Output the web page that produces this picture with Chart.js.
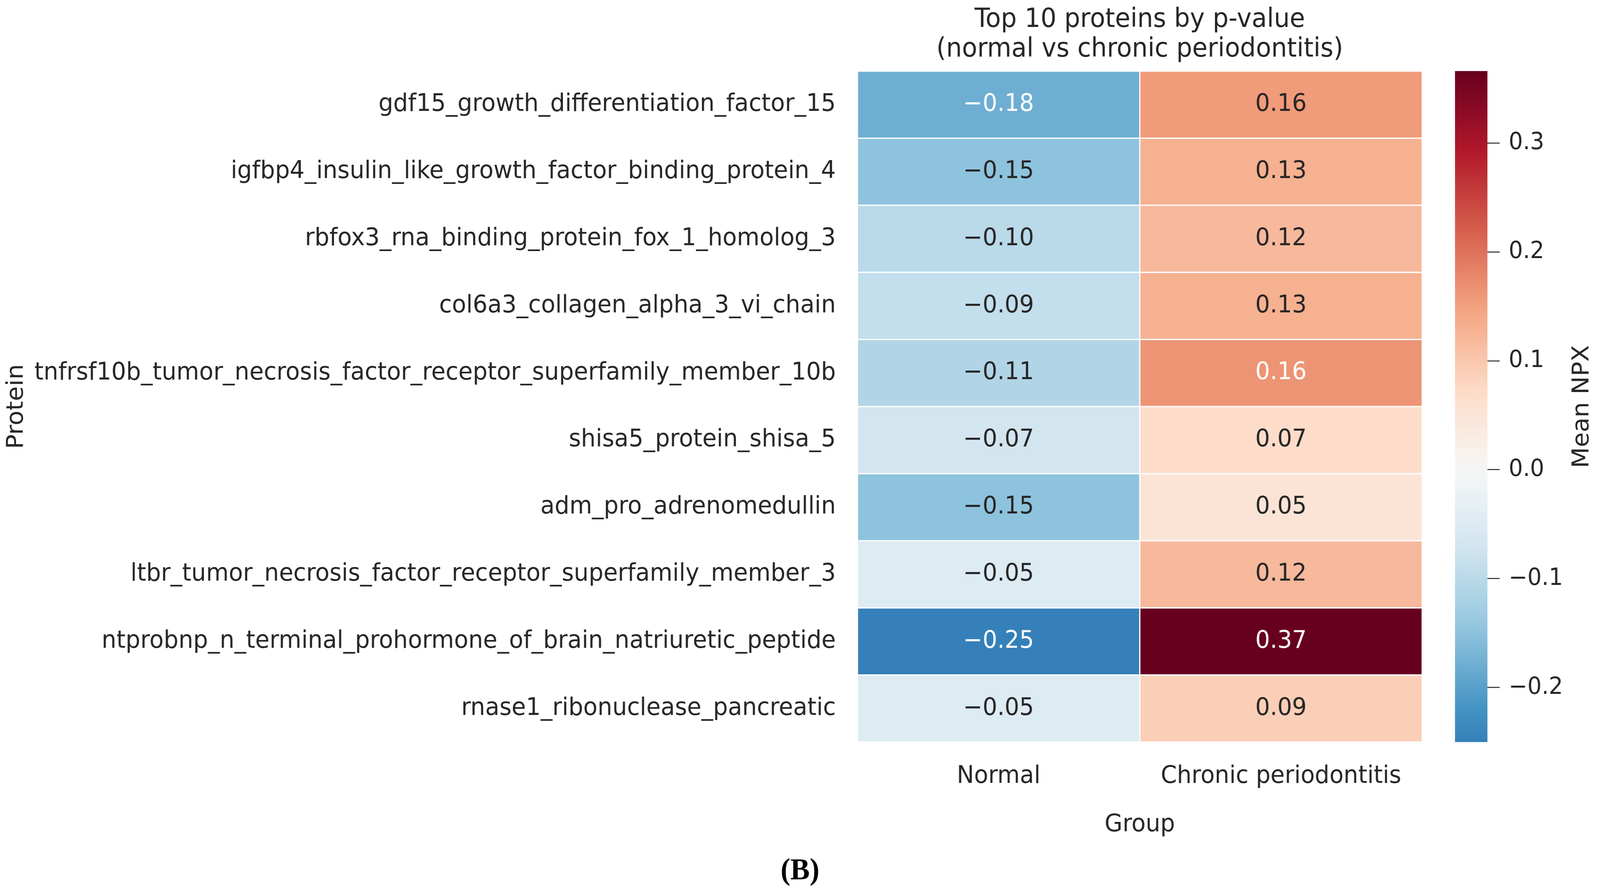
<!DOCTYPE html>
<html>
<head>
<meta charset="utf-8">
<script src="https://cdn.jsdelivr.net/npm/chart.js@4.4.1/dist/chart.umd.min.js"></script>
<style>
  html, body { margin: 0; padding: 0; background: #ffffff; overflow: hidden; }
  canvas { display: block; }
</style>
</head>
<body>
<!-- drawn at the reference size, shown fitted to the window -->
<canvas id="heatmap" width="4292" height="2287" style="width:100vw;height:100vh"></canvas>
<script>
// Heatmap values
const proteins = [
  'gdf15_growth_differentiation_factor_15',
  'igfbp4_insulin_like_growth_factor_binding_protein_4',
  'rbfox3_rna_binding_protein_fox_1_homolog_3',
  'col6a3_collagen_alpha_3_vi_chain',
  'tnfrsf10b_tumor_necrosis_factor_receptor_superfamily_member_10b',
  'shisa5_protein_shisa_5',
  'adm_pro_adrenomedullin',
  'ltbr_tumor_necrosis_factor_receptor_superfamily_member_3',
  'ntprobnp_n_terminal_prohormone_of_brain_natriuretic_peptide',
  'rnase1_ribonuclease_pancreatic'
];
const groups = ['Normal', 'Chronic periodontitis'];
const normalNPX = [-0.18, -0.15, -0.10, -0.09, -0.11, -0.07, -0.15, -0.05, -0.25, -0.05];
const chronicNPX = [0.157, 0.13, 0.12, 0.13, 0.164, 0.07, 0.05, 0.12, 0.366, 0.09];
const cbTicks = [-0.2, -0.1, 0.0, 0.1, 0.2, 0.3];
const cbMin = -0.25;
const cbMax = 0.366;

const textDark = '#262626';
const font = 'DejaVu Sans';

// RdBu_r, centred at zero like seaborn's center=0
const rdbuR = ['#053061', '#2166ac', '#4393c3', '#92c5de', '#d1e5f0', '#f7f7f7',
               '#fddbc7', '#f4a582', '#d6604d', '#b2182b', '#67001f'];
const vlim = Math.max(Math.abs(cbMin), Math.abs(cbMax));

function hexToRgb(h) {
  return [parseInt(h.substr(1, 2), 16), parseInt(h.substr(3, 2), 16), parseInt(h.substr(5, 2), 16)];
}

function cmapRgb(v) {
  let t = 0.5 + v / (2 * vlim);
  t = Math.max(0, Math.min(1, t));
  const p = t * 10;
  const i = Math.min(9, Math.floor(p));
  const f = p - i;
  const a = hexToRgb(rdbuR[i]);
  const b = hexToRgb(rdbuR[i + 1]);
  return a.map((c, k) => Math.round(c + (b[k] - c) * f));
}

function cmap(v) {
  const c = cmapRgb(v);
  return 'rgb(' + c[0] + ',' + c[1] + ',' + c[2] + ')';
}

// same rule as seaborn: light text on dark cells
function textColor(v) {
  const lin = cmapRgb(v).map(c => {
    c = c / 255;
    return c <= 0.03928 ? c / 12.92 : Math.pow((c + 0.055) / 1.055, 2.4);
  });
  const lum = 0.2126 * lin[0] + 0.7152 * lin[1] + 0.0722 * lin[2];
  return lum > 0.408 ? textDark : '#ffffff';
}

function fmt(v, d) {
  return v.toFixed(d).replace('-', '\u2212');
}

const columns = [normalNPX, chronicNPX];

// cell annotations
const annotatePlugin = {
  id: 'annotate',
  afterDatasetsDraw(chart) {
    const ctx = chart.ctx;
    ctx.save();
    ctx.font = '62px "' + font + '"';
    ctx.textAlign = 'center';
    ctx.textBaseline = 'middle';
    chart.data.datasets.forEach((ds, di) => {
      const meta = chart.getDatasetMeta(di);
      meta.data.forEach((el, i) => {
        const v = columns[di][i];
        const pt = el.getCenterPoint();
        ctx.fillStyle = textColor(v);
        ctx.fillText(fmt(v, 2), pt.x, pt.y);
      });
    });
    ctx.restore();
  }
};

// colour bar next to the 'cb' scale
const colorbarPlugin = {
  id: 'colorbar',
  afterDraw(chart) {
    const cb = chart.scales.cb;
    const ctx = chart.ctx;
    const yTop = cb.getPixelForValue(cbMax);
    const yBot = cb.getPixelForValue(cbMin);
    const barW = 87;
    const grad = ctx.createLinearGradient(0, yBot, 0, yTop);
    const steps = 60;
    for (let s = 0; s <= steps; s++) {
      const v = cbMin + (cbMax - cbMin) * s / steps;
      grad.addColorStop(s / steps, cmap(v));
    }
    ctx.save();
    ctx.fillStyle = grad;
    ctx.fillRect(cb.left - barW, yTop, barW, yBot - yTop);
    ctx.translate(cb.left + 255, (yTop + yBot) / 2);
    ctx.rotate(-Math.PI / 2);
    ctx.font = '62px "' + font + '"';
    ctx.fillStyle = textDark;
    ctx.textAlign = 'center';
    ctx.textBaseline = 'middle';
    ctx.fillText('Mean NPX', 0, 0);
    ctx.restore();
  }
};

const datasets = groups.map((g, gi) => ({
  label: g,
  data: proteins.map(() => [gi, gi + 1]),
  backgroundColor: columns[gi].map(cmap),
  borderColor: '#ffffff',
  borderWidth: 2,
  borderSkipped: false,
  grouped: false,
  barPercentage: 1,
  categoryPercentage: 1
}));

new Chart(document.getElementById('heatmap'), {
  type: 'bar',
  data: { labels: proteins, datasets: datasets },
  options: {
    indexAxis: 'y',
    responsive: false,
    animation: false,
    devicePixelRatio: 1,
    layout: { padding: 0 },
    scales: {
      x: {
        type: 'linear',
        min: 0,
        max: 2,
        afterBuildTicks: s => { s.ticks = groups.map((g, i) => ({ value: i + 0.5 })); },
        afterFit: s => { s.height = 260; },
        grid: { display: false, drawTicks: false },
        border: { display: false },
        ticks: {
          padding: 51,
          color: textDark,
          font: { family: font, size: 62 },
          callback: v => groups[Math.floor(v)]
        },
        title: {
          display: true,
          text: 'Group',
          color: textDark,
          font: { family: font, size: 62 },
          padding: { top: 0, bottom: 10 }
        }
      },
      y: {
        type: 'category',
        afterFit: s => { s.width = 2300; },
        grid: { display: false, drawTicks: false },
        border: { display: false },
        ticks: {
          padding: 58,
          color: textDark,
          font: { family: font, size: 62.5 }
        },
        title: {
          display: true,
          text: 'Protein',
          color: textDark,
          font: { family: font, size: 62 },
          padding: { top: 8, bottom: 0 }
        }
      },
      gap: {
        type: 'linear',
        position: 'right',
        weight: 0,
        display: true,
        offset: false,
        afterFit: s => { s.width = 175; },
        grid: { display: false, drawTicks: false, offset: false },
        border: { display: false },
        ticks: { display: false }
      },
      cb: {
        type: 'linear',
        position: 'right',
        weight: 1,
        min: cbMin,
        max: cbMax,
        offset: false,
        afterBuildTicks: s => { s.ticks = cbTicks.map(v => ({ value: v })); },
        afterFit: s => { s.width = 302; },
        grid: {
          offset: false,
          drawOnChartArea: false,
          drawTicks: true,
          tickLength: 33,
          tickWidth: 2.5,
          tickColor: textDark
        },
        border: { display: false },
        ticks: {
          padding: 24,
          color: textDark,
          font: { family: font, size: 60 },
          callback: v => fmt(v, 1)
        }
      }
    },
    plugins: {
      legend: { display: false },
      tooltip: { enabled: false },
      title: {
        display: true,
        fullSize: false,
        text: ['Top 10 proteins by p-value', '(normal vs chronic periodontitis)'],
        color: textDark,
        font: { family: font, size: 67, weight: 'normal', lineHeight: 76 / 67 },
        padding: { top: 14, bottom: 16 }
      },
      subtitle: {
        display: true,
        position: 'bottom',
        text: '(B)',
        color: '#000000',
        font: { family: 'Liberation Serif', size: 78, weight: 'bold', lineHeight: 1.2 },
        padding: { top: 25, bottom: 8 }
      }
    }
  },
  plugins: [annotatePlugin, colorbarPlugin]
});
</script>
</body>
</html>
